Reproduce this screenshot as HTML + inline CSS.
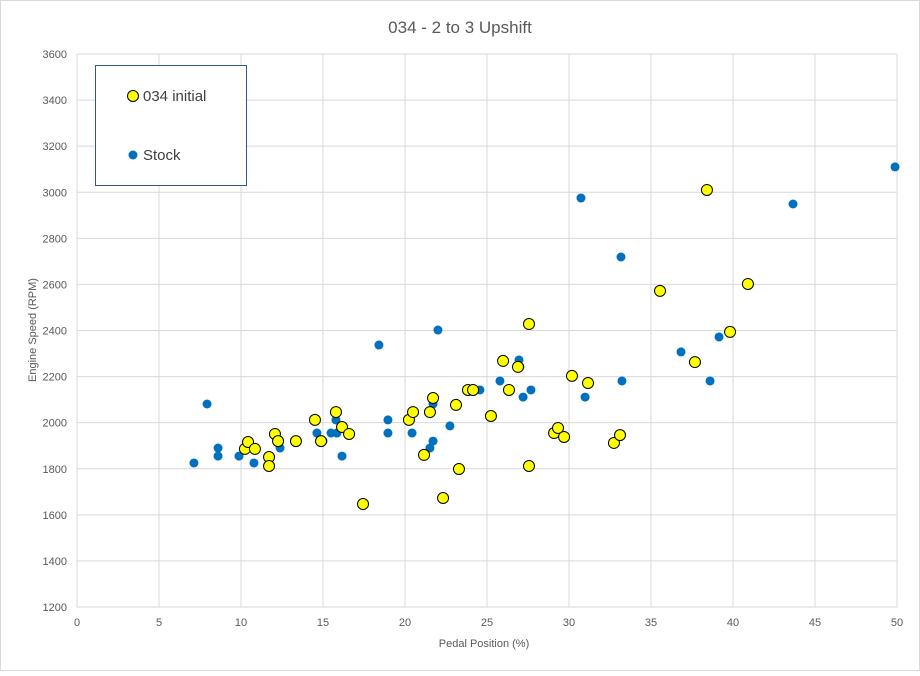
<!DOCTYPE html>
<html><head><meta charset="utf-8"><style>
body{margin:0;background:#fff;font-family:"Liberation Sans",sans-serif}
svg text{font-family:"Liberation Sans",sans-serif}
</style></head><body>
<svg id="chart" width="920" height="671" xmlns="http://www.w3.org/2000/svg">
<rect x="0.5" y="0.5" width="919" height="670" fill="#fff" stroke="#d9d9d9"/>
<text x="460" y="33" text-anchor="middle" font-size="17" fill="#595959">034 - 2 to 3 Upshift</text>
<g id="grid"></g>
<g id="ticks"></g>
<text x="484" y="647" text-anchor="middle" font-size="11" fill="#595959">Pedal Position (%)</text>
<text transform="translate(36,330) rotate(-90)" text-anchor="middle" font-size="11" fill="#595959">Engine Speed (RPM)</text>
<g id="marks"></g>
<g>
<rect x="95.5" y="65.5" width="151" height="120" fill="#fff" stroke="#2f5597"/>
<circle cx="133" cy="96" r="5.5" fill="#ffff00" stroke="#000"/>
<text x="143" y="101" font-size="15" fill="#404040">034 initial</text>
<circle cx="133" cy="155" r="4.5" fill="#0070c0"/>
<text x="143" y="160" font-size="15" fill="#404040">Stock</text>
</g>
</svg>
<script>
const xTicks=[0,5,10,15,20,25,30,35,40,45,50];
const yTicks=[1200,1400,1600,1800,2000,2200,2400,2600,2800,3000,3200,3400,3600];
const initialX=[10.24,10.43,10.85,11.71,11.71,12.07,12.26,13.35,14.51,14.88,15.79,16.16,16.59,17.44,20.24,20.49,21.52,21.71,21.16,22.32,23.11,23.29,23.84,24.15,25.24,25.98,26.34,26.89,27.56,27.56,29.09,29.33,29.70,30.18,31.16,32.74,33.11,35.55,37.68,38.41,39.82,40.91];
const initialY=[1886,1916,1886,1851,1812,1951,1920,1920,2012,1920,2046,1981,1951,1647,2012,2046,2046,2107,1860,1673,2077,1799,2142,2142,2029,2268,2142,2242,2428,1812,1955,1977,1938,2203,2172,1912,1946,2572,2263,3010,2394,2602];
const stockX=[7.13,7.93,8.6,8.6,9.88,10.79,12.38,14.63,15.0,15.49,15.79,15.85,16.16,18.41,18.96,18.96,20.43,21.52,21.71,21.71,22.01,22.74,24.27,24.57,25.79,26.95,27.01,27.2,27.68,30.73,30.98,33.17,33.23,36.83,38.6,39.15,43.66,49.88];
const stockY=[1825,2081,1890,1855,1855,1825,1890,1955,1920,1955,2012,1955,1855,2337,2012,1955,1955,1890,1920,2081,2402,1986,2142,2142,2181,2272,2242,2111,2142,2975,2111,2719,2181,2307,2181,2372,2949,3110];
const NS="http://www.w3.org/2000/svg";
const X0=77,X1=897,Y0=607,Y1=54;
const xs=v=>X0+(v-0)/50*(X1-X0);
const ys=v=>Y0-(v-1200)/2400*(Y0-Y1);
function mk(tag,attrs,parent){const e=document.createElementNS(NS,tag);for(const k in attrs)e.setAttribute(k,attrs[k]);parent.appendChild(e);return e;}
const grid=document.getElementById('grid'),ticks=document.getElementById('ticks'),marks=document.getElementById('marks');
xTicks.forEach(t=>{
 const l=mk('line',{x1:xs(t),x2:xs(t),y1:Y1,y2:Y0,stroke:'#d9d9d9'},grid);
 
 
 const tx=mk('text',{x:xs(t),y:626,'text-anchor':'middle','font-size':11,fill:'#595959'},ticks);
 tx.textContent=t;
 
 
});
yTicks.forEach(t=>{
 const l=mk('line',{x1:X0,x2:X1,y1:ys(t),y2:ys(t),stroke:'#d9d9d9'},grid);
 
 
 const tx=mk('text',{x:67,y:ys(t)+4,'text-anchor':'end','font-size':11,fill:'#595959'},ticks);
 tx.textContent=t;
 
 
});
stockX.forEach((v,i)=>{
 const c=mk('circle',{cx:xs(v),cy:ys(stockY[i]),r:4.5,fill:'#0070c0'},marks);
 
 
});
initialX.forEach((v,i)=>{
 const c=mk('circle',{cx:xs(v),cy:ys(initialY[i]),r:5.5,fill:'#ffff00',stroke:'#000','stroke-width':1},marks);
 
 
});
</script>
</body></html>
